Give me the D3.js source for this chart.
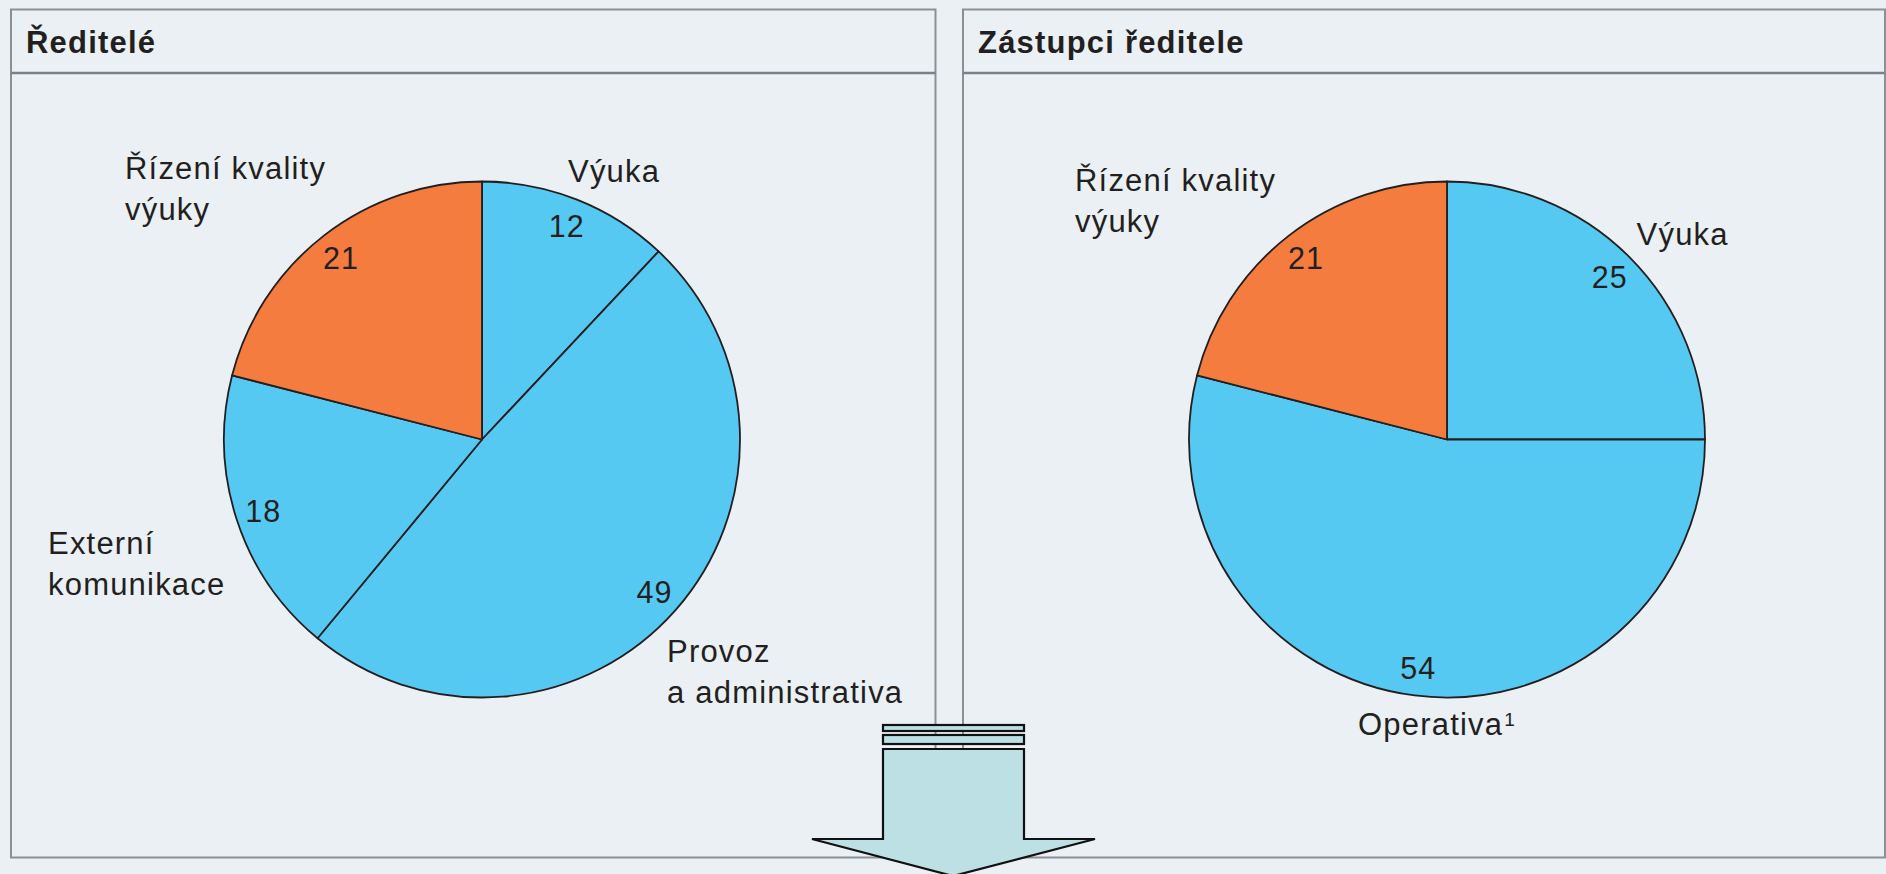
<!DOCTYPE html>
<html>
<head>
<meta charset="utf-8">
<script src="https://cdn.jsdelivr.net/npm/d3@7/dist/d3.min.js"></script>
<style>
  body { margin: 0; background: #eaf0f4; }
  svg { display: block; }
  text { font-family: "Liberation Sans", Arial, Helvetica, sans-serif; fill: #231f20; }
  .title { font-weight: bold; font-size: 31px; letter-spacing: 1.2px; }
  .cat { font-size: 31px; letter-spacing: 1.2px; }
  .num { font-size: 30.5px; letter-spacing: 1px; }
</style>
</head>
<body>
<svg id="chart" width="1886" height="874"></svg>
<script>
// Ředitelé
var DIR_TITLE = "Ředitelé";
var DIR_LABELS = [["Výuka"], ["Provoz", "a administrativa"], ["Externí", "komunikace"], ["Řízení kvality", "výuky"]];
var DIR_VALUES = [12, 49, 18, 21];
var DIR_KIND = ["ops", "ops", "ops", "quality"];

// Zástupci ředitele
var DEP_TITLE = "Zástupci ředitele";
var DEP_LABELS = [["Výuka"], ["Operativa"], ["Řízení kvality", "výuky"]];
var DEP_VALUES = [25, 54, 21];
var DEP_KIND = ["ops", "ops", "quality"];
var DEP_NOTE = ["", "1", ""];

document.addEventListener("DOMContentLoaded", function() {
  drawPanels();
  drawPie(DIR_LABELS, DIR_VALUES, DIR_KIND, null, 482, 439.5,
    [[86, -257.5], [185, 222.5], [-434, 114.5], [-357, -260.5]]);
  drawPie(DEP_LABELS, DEP_VALUES, DEP_KIND, DEP_NOTE, 1447, 439.5,
    [[189.6, -194.5], [-89, 295.5], [-372, -248.5]]);
  drawArrow();
})

function drawPanels() {
  var svg = d3.select("#chart");
  var panels = [
    { title: DIR_TITLE, x: 11, w: 924.5 },
    { title: DEP_TITLE, x: 963, w: 922 }
  ];

  var p = svg.selectAll(".panel")
      .data(panels)
    .enter()
      .append("g")
      .attr("class", "panel");

  p.append("rect")
    .attr("x", (d) => d.x)
    .attr("y", 9.5)
    .attr("width", (d) => d.w)
    .attr("height", 848)
    .attr("fill", "#eaf0f4")
    .attr("stroke", "#8b9095")
    .attr("stroke-width", 2);

  p.append("line")
    .attr("x1", (d) => d.x)
    .attr("x2", (d) => d.x + d.w)
    .attr("y1", 73)
    .attr("y2", 73)
    .attr("stroke", "#7c8186")
    .attr("stroke-width", 2.5);

  p.append("text")
    .attr("class", "title")
    .attr("x", (d) => d.x + 15)
    .attr("y", 53)
    .text((d) => d.title);
}

function drawPie(labels, values, kinds, notes, cx, cy, labelPos) {
  var svg = d3.select("#chart");
  var radius = 258;

  var color = d3.scaleOrdinal()
    .domain(["ops", "quality"])
    .range(["#56c9f3", "#f47c3e"]);

  var pie = d3.pie()
    .sort(null)
    .value((d) => d);

  var path = d3.arc()
    .outerRadius(radius)
    .innerRadius(0);

  var numArc = d3.arc()
    .outerRadius(230)
    .innerRadius(230);

  var g = svg.append("g")
    .attr("transform", "translate(" + cx + "," + cy + ")");

  var arcs = pie(values);

  g.selectAll(".slice")
      .data(arcs)
    .enter()
      .append("path")
      .attr("class", "slice")
      .attr("d", path)
      .attr("fill", (d, i) => color(kinds[i]))
      .attr("stroke", "#231f20")
      .attr("stroke-width", 1.8)
      .attr("stroke-linejoin", "round");

  g.selectAll(".num")
      .data(arcs)
    .enter()
      .append("text")
      .attr("class", "num")
      .attr("text-anchor", "middle")
      .attr("transform", (d) => "translate(" + numArc.centroid(d) + ")")
      .attr("dy", "0.36em")
      .text((d) => d.data);

  var lab = g.selectAll(".cat")
      .data(labels)
    .enter()
      .append("text")
      .attr("class", "cat")
      .attr("x", (d, i) => labelPos[i][0])
      .attr("y", (d, i) => labelPos[i][1]);

  lab.each(function(d, i) {
    var t = d3.select(this);
    d.forEach(function(line, j) {
      t.append("tspan")
        .attr("x", labelPos[i][0])
        .attr("dy", j === 0 ? 0 : 41)
        .text(line);
    });
    if (notes && notes[i]) {
      t.append("tspan")
        .attr("dy", -9)
        .attr("dx", 1)
        .style("font-size", "19px")
        .style("letter-spacing", "0px")
        .text(notes[i]);
    }
  });
}

function drawArrow() {
  var svg = d3.select("#chart");
  var g = svg.append("g")
    .attr("fill", "#bce0e4")
    .attr("stroke", "#111")
    .attr("stroke-width", 2.2);

  g.append("rect").attr("x", 883).attr("y", 725).attr("width", 141).attr("height", 6);
  g.append("rect").attr("x", 883).attr("y", 735).attr("width", 141).attr("height", 9);

  var pts = [[883, 749], [1024, 749], [1024, 839], [1095, 839], [953, 876], [812, 839], [883, 839]];
  g.append("path")
    .attr("d", d3.line()(pts) + "Z")
    .attr("stroke-linejoin", "miter");
}
</script>
</body>
</html>
